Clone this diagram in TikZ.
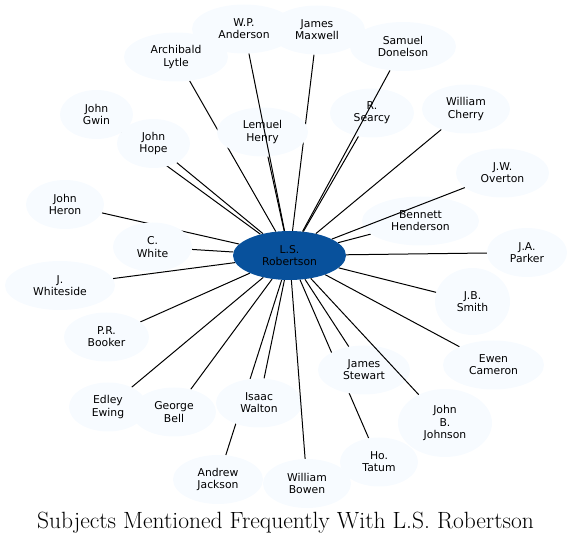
\documentclass[tikz,border=0pt]{standalone}
\usepackage{fontspec}
\usepackage{tikz}
\usetikzlibrary{shapes,positioning,backgrounds}
\usepackage{xcolor}
\newfontfamily\labelfont{DejaVu Sans}
\definecolor{leaf}{HTML}{F7FBFF}
\definecolor{hubblue}{HTML}{08519C}

\begin{document}
\begin{tikzpicture}[x=1pt, y=-1pt,
  subj/.style={ellipse, fill=leaf, inner sep=0pt, minimum width=#1, minimum height=49pt, align=center,
    font=\labelfont\fontsize{10.8}{12.2}\selectfont},
  hub/.style={ellipse, fill=hubblue, inner sep=0pt, minimum width=113pt, minimum height=49pt, align=center,
    font=\labelfont\fontsize{10.8}{12.2}\selectfont},
  link/.style={line width=1pt, black}
]
  \useasboundingbox (0,0) rectangle (571,545);

  \node[hub] (lsr) at (289.5,255.5) {L.S.\\Robertson};

  \node[subj=104pt] (anderson) at (244,29) {W.P.\\Anderson};
  \node[subj=96pt] (maxwell) at (317,30) {James\\Maxwell};
  \node[subj=106pt] (donelson) at (403,46.5) {Samuel\\Donelson};
  \node[subj=104pt] (lytle) at (176,57) {Archibald\\Lytle};
  \node[subj=73pt] (gwin) at (96.5,114.5) {John\\Gwin};
  \node[subj=73pt] (hope) at (153.5,143.5) {John\\Hope};
  \node[subj=91pt] (henry) at (262.5,132) {Lemuel\\Henry};
  \node[subj=84pt] (searcy) at (372,113) {R.\\Searcy};
  \node[subj=88pt] (cherry) at (466,109) {William\\Cherry};
  \node[subj=93pt] (overton) at (502.5,173) {J.W.\\Overton};
  \node[subj=117pt] (henderson) at (420.5,221) {Bennett\\Henderson};
  \node[subj=78pt] (heron) at (65,204.5) {John\\Heron};
  \node[subj=79pt] (white) at (152.5,247) {C.\\White};
  \node[subj=80pt] (parker) at (527,252.5) {J.A.\\Parker};
  \node[subj=110pt] (whiteside) at (60,285.5) {J.\\Whiteside};
  \node[subj=85pt] (booker) at (106.5,337) {P.R.\\Booker};
  \node[subj=75pt, minimum height=67pt] (smith) at (472.5,301.5) {J.B.\\Smith};
  \node[subj=101pt] (cameron) at (493.5,365) {Ewen\\Cameron};
  \node[subj=78pt] (ewing) at (108,407) {Edley\\Ewing};
  \node[subj=84pt] (bell) at (174,412) {George\\Bell};
  \node[subj=86pt] (walton) at (259,403) {Isaac\\Walton};
  \node[subj=92pt] (stewart) at (364,370) {James\\Stewart};
  \node[subj=94pt, minimum height=68pt] (johnson) at (445,423) {John\\B.\\Johnson};
  \node[subj=90pt] (jackson) at (218,479.5) {Andrew\\Jackson};
  \node[subj=88pt] (bowen) at (307,483.5) {William\\Bowen};
  \node[subj=78pt] (tatum) at (379,462) {Ho.\\Tatum};

  % links hidden behind the ellipses they cross
  \begin{scope}[on background layer]
    \draw[link] (lsr) -- (maxwell);
    \draw[link] (lsr) -- (lytle);
    \draw[link] (lsr) -- (gwin);
    \draw[link] (lsr) -- (hope);
    \draw[link] (lsr) -- (henry);
    \draw[link] (lsr) -- (searcy);
    \draw[link] (lsr) -- (cherry);
    \draw[link] (lsr) -- (henderson);
    \draw[link] (lsr) -- (heron);
    \draw[link] (lsr) -- (white);
    \draw[link] (lsr) -- (parker);
    \draw[link] (lsr) -- (whiteside);
    \draw[link] (lsr) -- (booker);
    \draw[link] (lsr) -- (smith);
    \draw[link] (lsr) -- (cameron);
    \draw[link] (lsr) -- (ewing);
    \draw[link] (lsr) -- (bell);
    \draw[link] (lsr) -- (walton);
    \draw[link] (lsr) -- (stewart);
    \draw[link] (lsr) -- (jackson);
    \draw[link] (lsr) -- (tatum);
  \end{scope}

  % links drawn over the ellipses
  \draw[link] (lsr) -- (anderson);
  \draw[link] (lsr) -- (donelson);
  \draw[link] (lsr) -- (overton);
  \draw[link] (lsr) -- (johnson);
  \draw[link] (lsr) -- (bowen);

  \node[font=\fontsize{23.5}{27}\selectfont] (title) at (285.5,522.5) {Subjects Mentioned Frequently With L.S. Robertson};
\end{tikzpicture}
\end{document}
